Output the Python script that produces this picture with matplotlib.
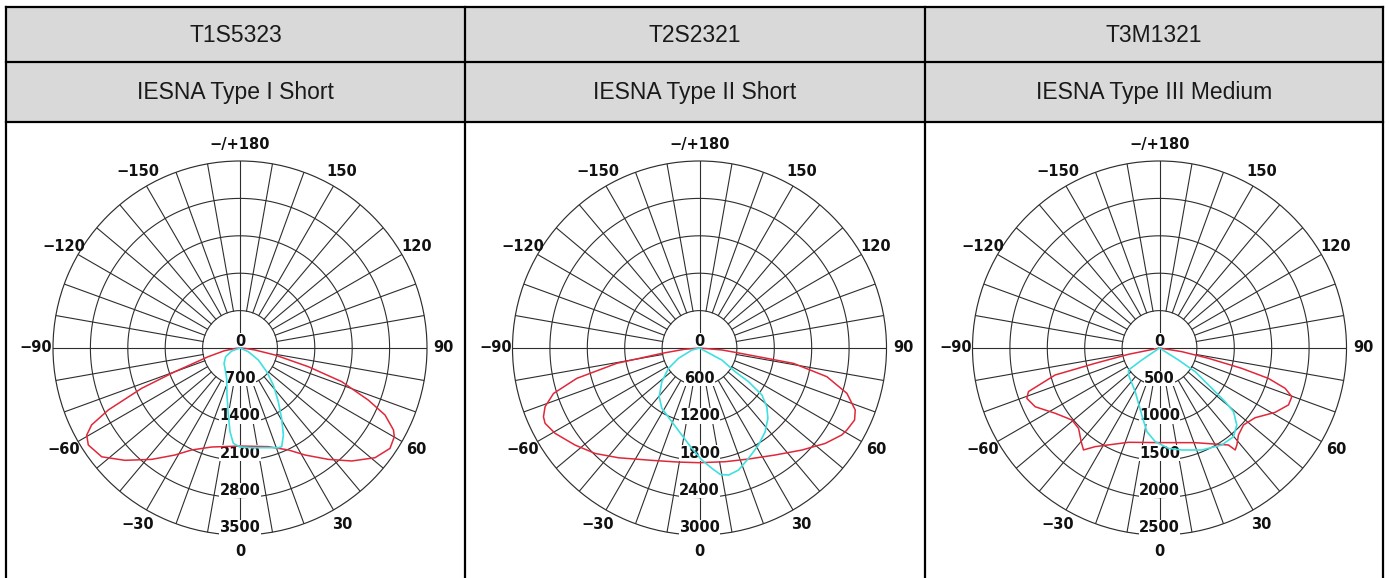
import numpy as np
import matplotlib.pyplot as plt
from matplotlib.lines import Line2D
from matplotlib.patches import Rectangle
from matplotlib.transforms import offset_copy

W, H = 1389, 578

codes = ["T1S5323", "T2S2321", "T3M1321"]
types = ["IESNA Type I Short", "IESNA Type II Short", "IESNA Type III Medium"]
r_max = [3500, 3000, 2500]
r_step = [700, 600, 500]

# angle (deg, 0 = nadir) and candela
red1_ang = [-90, -85, -80, -74.7, -70, -67.7, -64.8, -62.6, -60.4, -57.4, -51.8, -45.7, -38.4, -31.3, -25.4, -16, 0,
            16, 25.4, 31.3, 38.4, 44.7, 50.9, 56.2, 60.1, 61.9, 65.2, 67.9, 71.7, 74.7, 78.7, 82.4, 85, 90]
red1_cd = [0, 80, 300, 615, 1296, 1990, 2725, 3128, 3300, 3370, 3293, 3010, 2660, 2344, 2113, 1928, 1835,
           1921, 2113, 2344, 2660, 2975, 3256, 3378, 3332, 3256, 2990, 2592, 2005, 1326, 668, 283, 120, 0]
cyan1_ang = [-90, -70, -58.8, -46, -36.4, -23.7, -15.5, -9.9, -6.8, -4, 0, 6.7, 15.9, 21, 22.9, 26.5, 30.6, 35.5,
             42, 48.4, 56.8, 66, 90]
cyan1_cd = [0, 166, 314, 415, 473, 620, 912, 1273, 1577, 1790, 1853, 1878, 1940, 2000, 2005, 1820, 1530, 1235,
            932, 667, 410, 170, 0]

red2_ang = [-90, -85, -81.9, -79.5, -76.1, -72.7, -69.2, -66.2, -64, -59.4, -52, -44.7, -36.4, -23, -10.4, 0,
            12.7, 23.8, 35.3, 45.1, 52.8, 58.6, 60.9, 65.1, 68.3, 72.9, 77.3, 80.7, 82.9, 85, 90]
red2_cd = [0, 250, 610, 1350, 2028, 2453, 2650, 2736, 2756, 2691, 2531, 2380, 2188, 1958, 1861, 1840,
           1870, 1947, 2103, 2319, 2532, 2676, 2706, 2743, 2689, 2474, 2095, 1529, 604, 360, 0]
cyan2_ang = [-90, -75, -63.8, -56.7, -48.2, -39.6, -32, -20.6, -11.5, -4.4, 1.2, 5.9, 9.3, 12.9, 17.7, 23.9,
             31.3, 38.1, 44.2, 48.9, 53, 55.5, 56.4, 61.7, 90]
cyan2_cd = [0, 127, 376, 595, 811, 1015, 1141, 1263, 1425, 1615, 1798, 1941, 2055, 2091, 2056, 1938,
            1822, 1707, 1574, 1433, 1253, 954, 687, 407, 0]

red3_ang = [-90, -78.5, -76.6, -75.5, -71.6, -69.2, -64.7, -58, -50.6, -45.2, -39.9, -36.7, -33.1, -18.2, 0,
            20.6, 35.4, 36.6, 38.6, 42.2, 47.5, 53.9, 60.9, 66.2, 69.8, 72.2, 74.4, 76.1, 78.1, 80.7, 90]
red3_cd = [0, 423, 884, 1441, 1846, 1897, 1838, 1646, 1516, 1525, 1632, 1700, 1574, 1327, 1265,
           1352, 1591, 1698, 1658, 1571, 1523, 1582, 1769, 1885, 1885, 1764, 1512, 1133, 669, 303, 0]
cyan3_ang = [-90, -55.8, -54.6, -48.9, -29.1, -14.8, -8.6, -2.6, 5.1, 12.4, 22.5, 32.7, 39.8, 45.1, 49.3, 50.7,
             52.4, 56.4, 57.7, 90]
cyan3_cd = [0, 285, 508, 549, 668, 927, 1131, 1253, 1347, 1396, 1476, 1541, 1544, 1459, 1305, 1134,
            883, 572, 300, 0]

red_ang = [red1_ang, red2_ang, red3_ang]
red_cd = [red1_cd, red2_cd, red3_cd]
cyan_ang = [cyan1_ang, cyan2_ang, cyan3_ang]
cyan_cd = [cyan1_cd, cyan2_cd, cyan3_cd]

angle_ticks = [0, 30, 60, 90, 120, 150, 180, -150, -120, -90, -60, -30]
angle_labels = ["0", "30", "60", "90", "120", "150", "\u2212/+180", "\u2212150", "\u2212120", "\u221290",
                "\u221260", "\u221230"]

fig = plt.figure(figsize=(W / 100, H / 100), dpi=100)

# table frame
x_edges = [6, 465, 925, 1383]
y_rows = [7, 62, 122]
fig.add_artist(Rectangle((6 / W, 1 - 122 / H), (1383 - 6) / W, (122 - 7) / H, transform=fig.transFigure,
                         fc="#d9d9d9", ec="none", zorder=0))
for y in y_rows:
    fig.add_artist(Line2D([6 / W, 1383 / W], [1 - y / H, 1 - y / H], transform=fig.transFigure,
                          color="black", lw=1.6, solid_capstyle="projecting"))
for x in x_edges:
    fig.add_artist(Line2D([x / W, x / W], [1 - 7 / H, 0], transform=fig.transFigure,
                          color="black", lw=1.6, solid_capstyle="projecting"))

for i in range(3):
    xc = (x_edges[i] + x_edges[i + 1]) / 2
    fig.text(xc / W, 1 - 35 / H, codes[i], ha="center", va="center", fontsize=16.5,
             family="Liberation Sans", color="#1a1a1a")
    fig.text(xc / W, 1 - 92 / H, types[i], ha="center", va="center", fontsize=16.5,
             family="Liberation Sans", color="#1a1a1a")

centers = [240, 699.5, 1159.5]
cy = 348
R = 187
gc = "#2e2e2e"

for i in range(3):
    cx = centers[i]
    ax = fig.add_axes([(cx - R) / W, (H - cy - R) / H, 2 * R / W, 2 * R / H], projection="polar")
    ax.set_theta_zero_location("S")
    ax.set_theta_direction(1)
    rmax = r_max[i]
    step = r_step[i]
    ax.set_ylim(0, rmax)
    ax.grid(False)
    ax.set_xticks([])
    ax.set_yticks([])
    ax.spines["polar"].set_color(gc)
    ax.spines["polar"].set_linewidth(0.85)

    # grid
    th = np.linspace(0, 2 * np.pi, 721)
    for r in range(step, rmax, step):
        ax.plot(th, np.full_like(th, r), color=gc, lw=0.8, zorder=1)
    for a in range(0, 360, 10):
        r0 = 0 if a % 90 == 0 else step
        ax.plot([np.deg2rad(a)] * 2, [r0, rmax], color=gc, lw=0.8, zorder=1)

    # radial labels
    trans = offset_copy(ax.transData, fig=fig, x=0, y=7, units="dots")
    for v in range(0, rmax + 1, step):
        ax.text(0, v, str(v), transform=trans, ha="center", va="center", fontsize=10.5, fontweight="bold",
                color="#111111", zorder=3, bbox=dict(fc="white", ec="none", pad=0.2))

    # angle labels
    for a, lbl in zip(angle_ticks, angle_labels):
        ax.text(np.deg2rad(a), rmax * 1.09, lbl, ha="center", va="center", fontsize=10.5, fontweight="bold",
                color="#111111", clip_on=False)

    ax.plot(np.deg2rad(red_ang[i]), red_cd[i], color="#e0283a", lw=1.1, zorder=5)
    ax.plot(np.deg2rad(cyan_ang[i]), cyan_cd[i], color="#3fe0e0", lw=1.2, zorder=5)

fig.savefig("out.png", dpi=100)
